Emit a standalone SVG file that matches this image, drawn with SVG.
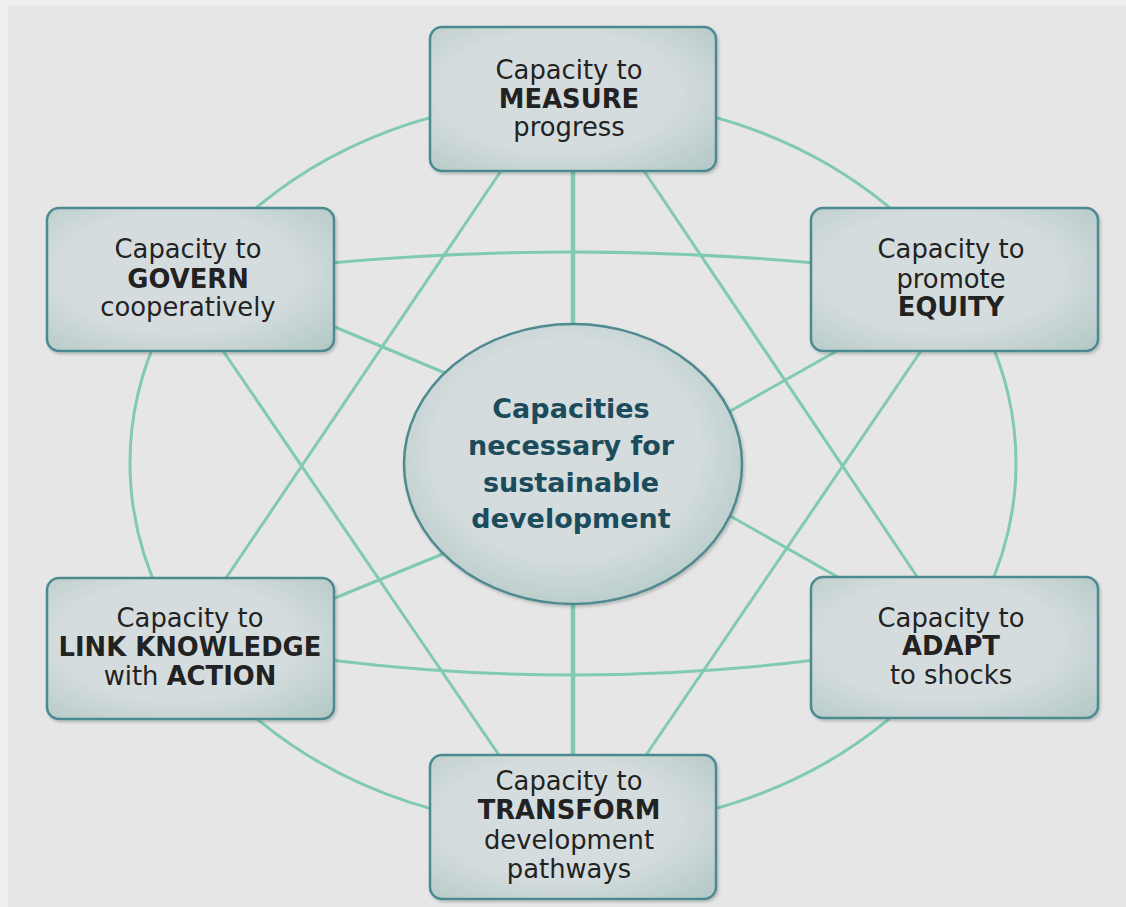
<svg xmlns="http://www.w3.org/2000/svg" width="1126" height="907" viewBox="0 0 1126 907">
<style>
.ln{fill:none;stroke:#80c9b2;stroke-width:3;stroke-linecap:round}
.thick{stroke-width:4.5}
.box{fill:url(#bg);stroke:#4c8a90;stroke-width:2.5}
.t{font-family:"DejaVu Sans",sans-serif;font-size:25.8px;fill:#222;text-anchor:middle}
.b{font-weight:bold}
.c{font-family:"DejaVu Sans",sans-serif;font-size:27px;font-weight:bold;fill:#1c4b5b;text-anchor:middle}
</style>
<defs>
<radialGradient id="bg" cx="0.45" cy="0.45" r="0.75">
<stop offset="0.55" stop-color="#d5dcde"/>
<stop offset="1" stop-color="#b3c9c5"/>
</radialGradient>
<radialGradient id="eg" cx="0.48" cy="0.45" r="0.6">
<stop offset="0.65" stop-color="#d4dcde"/>
<stop offset="1" stop-color="#b4cac6"/>
</radialGradient>
<filter id="sh" x="-10%" y="-10%" width="125%" height="125%">
<feDropShadow dx="1.5" dy="2" stdDeviation="1.5" flood-color="#000" flood-opacity="0.2"/>
</filter>
</defs>
<rect x="0" y="0" width="1126" height="907" fill="#efefef"/>
<rect x="8" y="5" width="1118" height="902" fill="#e6e6e6"/>
<g id="connectors">
<ellipse class="ln" cx="573" cy="463" rx="443" ry="365"/>
<path class="ln" d="M330 263 Q573 241 815 263"/>
<path class="ln" d="M330 660 Q573 690 815 660"/>
<line class="ln" x1="505" y1="165" x2="222" y2="584"/>
<line class="ln" x1="640" y1="165" x2="922" y2="584"/>
<line class="ln" x1="219" y1="345" x2="503" y2="761"/>
<line class="ln" x1="925" y1="345" x2="642" y2="761"/>
<line class="ln thick" x1="573" y1="168" x2="573" y2="330"/>
<line class="ln thick" x1="573" y1="598" x2="573" y2="760"/>
<line class="ln" x1="330" y1="325" x2="450" y2="375"/>
<line class="ln" x1="842" y1="348" x2="725" y2="414"/>
<line class="ln" x1="330" y1="600" x2="450" y2="551"/>
<line class="ln" x1="843" y1="580" x2="725" y2="513"/>
</g>
<g id="center">
<ellipse cx="573" cy="464" rx="169" ry="140" fill="url(#eg)" stroke="#4f8a90" stroke-width="2.5" filter="url(#sh)"/>
<text class="c" x="571" y="418">Capacities</text>
<text class="c" x="571" y="455">necessary for</text>
<text class="c" x="571" y="492">sustainable</text>
<text class="c" x="571" y="528">development</text>
</g>
<g id="measure">
<rect class="box" x="430" y="27" width="286" height="144" rx="12" filter="url(#sh)"/>
<text class="t" x="569" y="79">Capacity to</text>
<text class="t b" x="569" y="108">MEASURE</text>
<text class="t" x="569" y="136">progress</text>
</g>
<g id="govern">
<rect class="box" x="47" y="208" width="287" height="143" rx="12" filter="url(#sh)"/>
<text class="t" x="188" y="258">Capacity to</text>
<text class="t b" x="188" y="288">GOVERN</text>
<text class="t" x="188" y="316">cooperatively</text>
</g>
<g id="equity">
<rect class="box" x="811" y="208" width="287" height="143" rx="12" filter="url(#sh)"/>
<text class="t" x="951" y="258">Capacity to</text>
<text class="t" x="951" y="288">promote</text>
<text class="t b" x="951" y="316">EQUITY</text>
</g>
<g id="link">
<rect class="box" x="47" y="578" width="287" height="141" rx="12" filter="url(#sh)"/>
<text class="t" x="190" y="627">Capacity to</text>
<text class="t b" x="190" y="656">LINK KNOWLEDGE</text>
<text class="t" x="190" y="685">with <tspan class="b">ACTION</tspan></text>
</g>
<g id="adapt">
<rect class="box" x="811" y="577" width="287" height="141" rx="12" filter="url(#sh)"/>
<text class="t" x="951" y="627">Capacity to</text>
<text class="t b" x="951" y="655">ADAPT</text>
<text class="t" x="951" y="684">to shocks</text>
</g>
<g id="transform">
<rect class="box" x="430" y="755" width="286" height="144" rx="12" filter="url(#sh)"/>
<text class="t" x="569" y="790">Capacity to</text>
<text class="t b" x="569" y="819">TRANSFORM</text>
<text class="t" x="569" y="849">development</text>
<text class="t" x="569" y="878">pathways</text>
</g>
</svg>
